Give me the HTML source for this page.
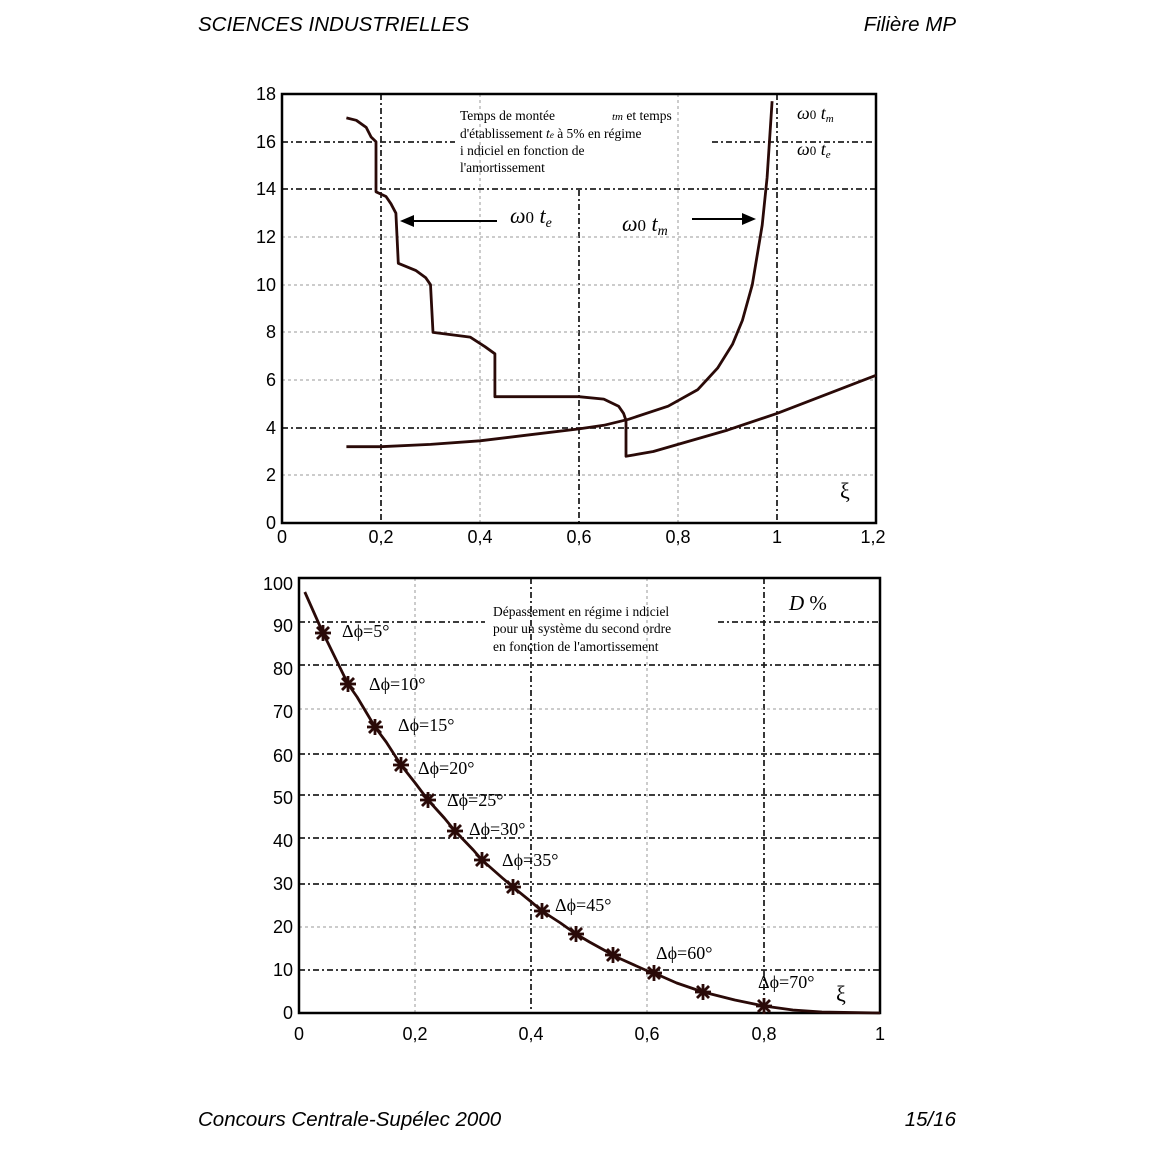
<!DOCTYPE html>
<html><head><meta charset="utf-8"><style>
body{margin:0;background:#fff;width:1152px;height:1152px;overflow:hidden}
svg{display:block}
.s{font-family:"Liberation Sans",sans-serif;font-size:18px;fill:#000}
.h{font-family:"Liberation Sans",sans-serif;font-size:20.5px;font-style:italic;fill:#000}
.r{font-family:"Liberation Serif",serif;fill:#000}
.g1{stroke:#222;stroke-width:1.8;stroke-dasharray:6 3 2 3}
.g2{stroke:#999;stroke-width:1;stroke-dasharray:3 3}
.c{fill:none;stroke:#2a0a08;stroke-width:2.8;stroke-linejoin:round}
</style></head><body>
<svg width="1152" height="1152" viewBox="0 0 1152 1152">
<text class="h" x="198" y="31">SCIENCES INDUSTRIELLES</text>
<text class="h" x="956" y="31" text-anchor="end">Filière MP</text>
<text class="h" x="198" y="1126">Concours Centrale-Supélec 2000</text>
<text class="h" x="956" y="1126" text-anchor="end">15/16</text>

<!-- TOP CHART -->
<g>
<line class="g1" x1="381" y1="94" x2="381" y2="523"/>
<line class="g2" x1="480" y1="94" x2="480" y2="523"/>
<line class="g1" x1="579" y1="190" x2="579" y2="523"/>
<line class="g2" x1="678" y1="94" x2="678" y2="523"/>
<line class="g1" x1="777" y1="94" x2="777" y2="523"/>
<line class="g2" x1="282" y1="475" x2="876" y2="475"/>
<line class="g1" x1="282" y1="428" x2="876" y2="428"/>
<line class="g2" x1="282" y1="380" x2="876" y2="380"/>
<line class="g2" x1="282" y1="332" x2="876" y2="332"/>
<line class="g2" x1="282" y1="285" x2="876" y2="285"/>
<line class="g2" x1="282" y1="237" x2="876" y2="237"/>
<line class="g1" x1="282" y1="189" x2="876" y2="189"/>
<line class="g1" x1="282" y1="142" x2="455" y2="142"/>
<line class="g1" x1="712" y1="142" x2="876" y2="142"/>
<rect x="282" y="94" width="594" height="429" fill="none" stroke="#000" stroke-width="2.5"/>
<g class="s" text-anchor="end">
<text x="276" y="529">0</text><text x="276" y="481">2</text><text x="276" y="434">4</text><text x="276" y="386">6</text><text x="276" y="338">8</text><text x="276" y="291">10</text><text x="276" y="243">12</text><text x="276" y="195">14</text><text x="276" y="148">16</text><text x="276" y="100">18</text>
</g>
<g class="s" text-anchor="middle">
<text x="282" y="543">0</text><text x="381" y="543">0,2</text><text x="480" y="543">0,4</text><text x="579" y="543">0,6</text><text x="678" y="543">0,8</text><text x="777" y="543">1</text><text x="873" y="543">1,2</text>
</g>
<polyline class="c" points="346.4,117.9 356.3,120.3 366.2,127.4 371.1,137 376,141.7 376,191.8 386,196.5 390.9,203.7 395.9,213.2 398.3,263.3 415.7,270.4 425.6,277.6 430.5,284.7 433,332.4 470.1,337.1 485,346.7 494.9,353.8 494.9,396.7 579,396.7 603.8,399.1 618.6,406.2 623.6,413.4 626,420.5 626,456.3 653.3,451.5 678,444.4 727.5,430.1 777,413.4 876,375.3"/>
<polyline class="c" points="346.4,446.7 381,446.7 430.5,444.4 480,440.8 529.5,434.8 579,428.9 603.8,425.3 628.5,419.3 668.1,406.2 697.8,389.6 717.6,368.1 732.5,344.3 742.4,320.4 752.3,284.7 762.2,225.1 767.1,177.5 772.1,101.2"/>
<line x1="410" y1="221" x2="497" y2="221" stroke="#000" stroke-width="2"/>
<polygon points="400,221 414,215 414,227" fill="#000"/>
<line x1="692" y1="219" x2="745" y2="219" stroke="#000" stroke-width="2"/>
<polygon points="756,219 742,213 742,225" fill="#000"/>
<text class="r" x="510" y="223" font-size="22" font-style="italic">ω<tspan font-style="normal" font-size="17">0</tspan> t<tspan font-size="14" dy="4">e</tspan></text>
<text class="r" x="622" y="231" font-size="22" font-style="italic">ω<tspan font-style="normal" font-size="17">0</tspan> t<tspan font-size="14" dy="4">m</tspan></text>
<text class="r" x="797" y="119" font-size="18" font-style="italic">ω<tspan font-style="normal" font-size="13">0</tspan> t<tspan font-size="11" dy="3">m</tspan></text>
<text class="r" x="797" y="155" font-size="18" font-style="italic">ω<tspan font-style="normal" font-size="13">0</tspan> t<tspan font-size="11" dy="3">e</tspan></text>
<g class="r" font-size="13.5">
<text x="460" y="120">Temps de montée <tspan x="612" font-style="italic" font-size="11">tm</tspan> et temps</text>
<text x="460" y="138">d'établissement <tspan font-style="italic">t<tspan font-size="9">e</tspan></tspan> à 5% en régime</text>
<text x="460" y="155">i ndiciel en fonction de</text>
<text x="460" y="172">l'amortissement</text>
</g>
<text class="r" x="840" y="498" font-size="22">ξ</text>
</g>

<!-- BOTTOM CHART -->
<g>
<line class="g2" x1="415" y1="578" x2="415" y2="1013"/>
<line class="g1" x1="531" y1="578" x2="531" y2="1013"/>
<line class="g2" x1="647" y1="578" x2="647" y2="1013"/>
<line class="g1" x1="764" y1="578" x2="764" y2="1013"/>
<g>
<line class="g1" x1="299" y1="970" x2="880" y2="970"/>
<line class="g2" x1="299" y1="927" x2="880" y2="927"/>
<line class="g1" x1="299" y1="884" x2="880" y2="884"/>
<line class="g1" x1="299" y1="838" x2="880" y2="838"/>
<line class="g1" x1="299" y1="795" x2="880" y2="795"/>
<line class="g1" x1="299" y1="754" x2="880" y2="754"/>
<line class="g2" x1="299" y1="709" x2="880" y2="709"/>
<line class="g1" x1="299" y1="665" x2="880" y2="665"/>
<line class="g1" x1="299" y1="622" x2="485" y2="622"/>
<line class="g1" x1="718" y1="622" x2="880" y2="622"/>
</g>
<rect x="299" y="578" width="581" height="435" fill="none" stroke="#000" stroke-width="2.5"/>
<g class="s" text-anchor="end">
<text x="293" y="1019">0</text><text x="293" y="976">10</text><text x="293" y="933">20</text><text x="293" y="890">30</text><text x="293" y="847">40</text><text x="293" y="804">50</text><text x="293" y="762">60</text><text x="293" y="718">70</text><text x="293" y="675">80</text><text x="293" y="632">90</text><text x="293" y="590">100</text>
</g>
<g class="s" text-anchor="middle">
<text x="299" y="1040">0</text><text x="415" y="1040">0,2</text><text x="531" y="1040">0,4</text><text x="647" y="1040">0,6</text><text x="764" y="1040">0,8</text><text x="880" y="1040">1</text>
</g>
<polyline class="c" points="304.8,592 323,633 328,643 348,684 357.1,697 375,727 386.2,742 401,765 415.2,783 428,800 444.3,818 455,831 473.3,850 482,860 502.4,878 513,887 531.4,902 542,911 560.5,923 576,934 589.5,942 613,955 618.6,958 647.6,971 654,973 676.7,983 703,992 734.8,1000 764,1006 792.9,1010 821.9,1012 880,1013"/>
<defs><g id="m" stroke="#2a0a08" stroke-width="2.8"><line x1="-8" y1="0" x2="8" y2="0"/><line x1="0" y1="-8" x2="0" y2="8"/><line x1="-6" y1="-6" x2="6" y2="6"/><line x1="-6" y1="6" x2="6" y2="-6"/></g></defs>
<use href="#m" x="323" y="633"/><use href="#m" x="348" y="684"/><use href="#m" x="375" y="727"/><use href="#m" x="401" y="765"/><use href="#m" x="428" y="800"/><use href="#m" x="455" y="831"/><use href="#m" x="482" y="860"/><use href="#m" x="513" y="887"/><use href="#m" x="542" y="911"/><use href="#m" x="576" y="934"/><use href="#m" x="613" y="955"/><use href="#m" x="654" y="973"/><use href="#m" x="703" y="992"/><use href="#m" x="764" y="1006"/>
<g class="r" font-size="18">
<text x="342" y="637">Δϕ=5°</text>
<text x="369" y="690">Δϕ=10°</text>
<text x="398" y="731">Δϕ=15°</text>
<text x="418" y="774">Δϕ=20°</text>
<text x="447" y="806">Δϕ=25°</text>
<text x="469" y="835">Δϕ=30°</text>
<text x="502" y="866">Δϕ=35°</text>
<text x="555" y="911">Δϕ=45°</text>
<text x="656" y="959">Δϕ=60°</text>
<text x="758" y="988">Δϕ=70°</text>
</g>
<g class="r" font-size="13.5">
<text x="493" y="616">Dépassement en régime i ndiciel</text>
<text x="493" y="633">pour un système du second ordre</text>
<text x="493" y="651">en fonction de l'amortissement</text>
</g>
<text class="r" x="789" y="610" font-size="21"><tspan font-style="italic">D</tspan> %</text>
<text class="r" x="836" y="1001" font-size="22">ξ</text>
</g>
</svg>
</body></html>
